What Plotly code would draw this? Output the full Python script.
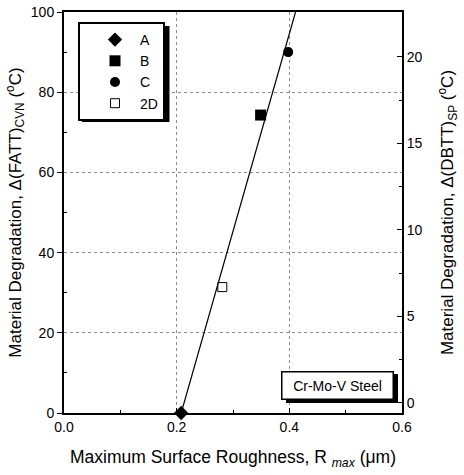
import plotly.graph_objects as go

# data
labels = ["A", "B", "C", "2D"]
roughness = [0.208, 0.349, 0.398, 0.281]
fatt = [0, 74.3, 90, 31.4]
symbols = ["diamond", "square", "circle", "square-open"]
sizes = [11, 11, 10, 9]

fit_x = [0.208, 0.411]
fit_y = [0, 100]

x_ticks = [0.0, 0.2, 0.4, 0.6]
y_ticks = [0, 20, 40, 60, 80, 100]
y2_ticks = [0, 5, 10, 15, 20]

FONT = "Liberation Sans, Arial, sans-serif"
L, R, T, B = 64, 402, 12, 413
PW, PH = R - L, B - T


def px(x):
    return (x - L) / PW


def py(y):
    return (B - y) / PH


fig = go.Figure()
fig.add_trace(go.Scatter(x=fit_x, y=fit_y, mode="lines",
                         line=dict(color="black", width=1.2), showlegend=False,
                         hoverinfo="skip"))
for lab, xv, yv, sym, sz in zip(labels, roughness, fatt, symbols, sizes):
    fig.add_trace(go.Scatter(x=[xv], y=[yv], mode="markers", name=lab,
                             marker=dict(symbol=sym, size=sz, color="black",
                                         line=dict(color="black", width=1 if "open" in sym else 0)),
                             cliponaxis=False))
fig.add_trace(go.Scatter(x=[None], y=[None], yaxis="y2", showlegend=False, hoverinfo="skip"))

grid = dict(showgrid=True, gridcolor="#8a8a8a", griddash="dot", gridwidth=1)

fig.update_layout(
    width=464, height=475,
    margin=dict(l=L, r=464 - R, t=T, b=475 - B),
    paper_bgcolor="white", plot_bgcolor="white",
    font=dict(family=FONT, size=14, color="black"),
    xaxis=dict(range=[0, 0.6], tickvals=x_ticks, ticktext=["0.0", "0.2", "0.4", "0.6"],
               showline=True, linecolor="black", linewidth=2, mirror=True,
               ticks="inside", ticklen=5, tickcolor="black", automargin=False,
               minor=dict(tickvals=[0.1, 0.3, 0.5], ticks="inside", ticklen=3, tickcolor="black", showgrid=False),
               zeroline=False, tickfont=dict(size=14), **grid,
               title=dict(text="Maximum Surface Roughness, R <sub><i>max</i></sub> (μm)",
                          font=dict(size=17.5), standoff=17)),
    yaxis=dict(range=[0, 100], tickvals=y_ticks,
               showline=True, linecolor="black", linewidth=2, automargin=False,
               ticks="outside", ticklen=5, tickcolor="black",
               minor=dict(tickvals=[10, 30, 50, 70, 90], ticks="inside", ticklen=3, tickcolor="black", showgrid=False),
               zeroline=False, tickfont=dict(size=14), **grid,
               title=dict(text="Material Degradation, Δ(FATT)<sub>CVN</sub> (<sup>o</sup>C)",
                          font=dict(size=17), standoff=5)),
    yaxis2=dict(range=[-0.58, 22.6], tickvals=y2_ticks, overlaying="y", side="right",
                showline=True, linecolor="black", linewidth=2, automargin=False,
                ticks="inside", ticklen=5, tickcolor="black",
                minor=dict(tickvals=[2.5, 7.5, 12.5, 17.5], ticks="inside", ticklen=3, tickcolor="black"),
                showgrid=False, zeroline=False, tickfont=dict(size=14),
                title=dict(text="Material Degradation, Δ(DBTT)<sub>SP</sub> (<sup>o</sup>C)",
                           font=dict(size=17), standoff=20)),
    legend=dict(x=px(78), y=py(22), xanchor="left", yanchor="top",
                bordercolor="black", borderwidth=2, bgcolor="white",
                font=dict(size=14), itemwidth=40, entrywidth=63, indentation=10,
                tracegroupgap=0),
    showlegend=True,
)

# legend shadow
fig.add_shape(type="rect", xref="paper", yref="paper",
              x0=px(82), x1=px(169.5), y0=py(122), y1=py(26),
              fillcolor="black", line=dict(width=0), layer="above")

# Cr-Mo-V Steel box with shadow
fig.add_shape(type="rect", xref="paper", yref="paper",
              x0=px(286), x1=px(398), y0=py(403), y1=py(374),
              fillcolor="black", line=dict(width=0), layer="above")
fig.add_annotation(text="Cr-Mo-V Steel", xref="paper", yref="paper",
                   x=px(337.5), y=py(385.5),
                   xanchor="center", yanchor="middle", showarrow=False,
                   font=dict(size=14, color="black"), bgcolor="white",
                   bordercolor="black", borderwidth=1.5, borderpad=5, width=100)

fig.write_html("out.html", config={"displayModeBar": False},
               post_script="document.body.style.margin='0';")
